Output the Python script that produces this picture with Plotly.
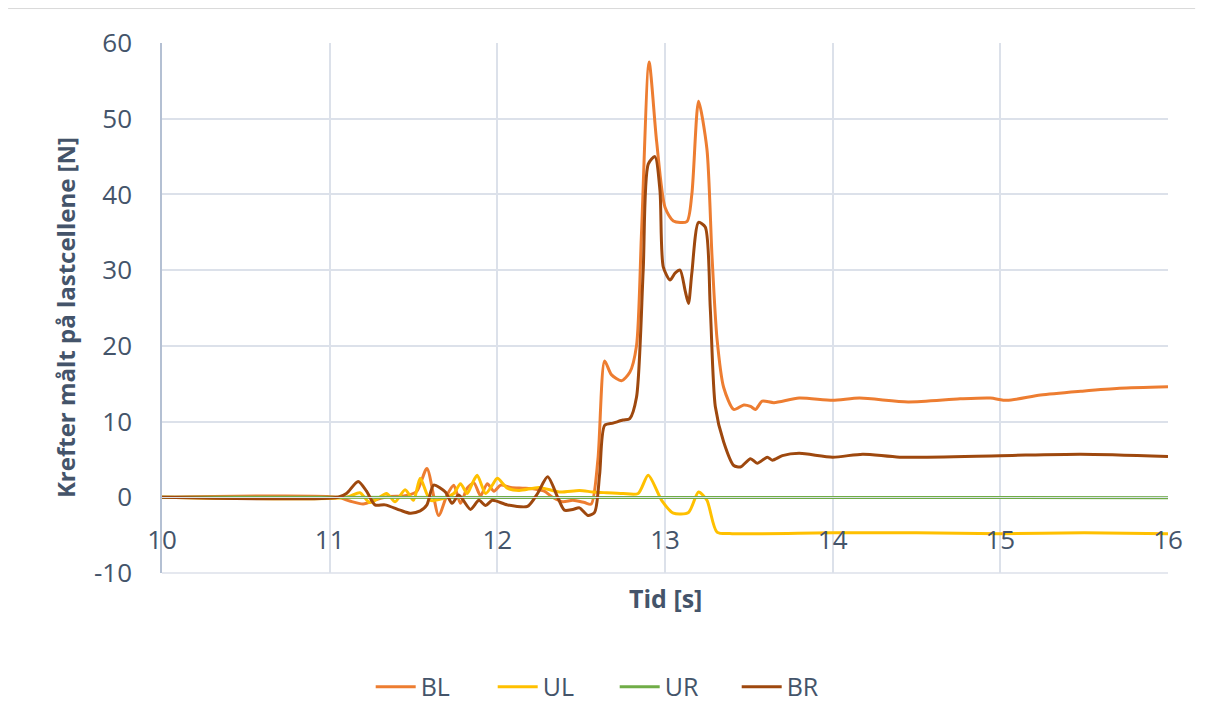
import plotly.graph_objects as go

# ---- data ----
bl_t = [10.0, 11.05, 11.12, 11.2, 11.28, 11.35, 11.45, 11.52, 11.58, 11.65, 11.7, 11.74, 11.78, 11.82,
        11.86, 11.9, 11.94, 11.98, 12.02, 12.08, 12.15, 12.22, 12.28, 12.33, 12.39, 12.45, 12.52, 12.56,
        12.6, 12.64, 12.68, 12.74, 12.79, 12.83, 12.86, 12.905, 12.95, 13.0, 13.05, 13.13, 13.16, 13.2,
        13.25, 13.28, 13.31, 13.35, 13.41, 13.47, 13.51, 13.54, 13.58, 13.65, 13.8, 14.0, 14.16, 14.45,
        14.76, 14.94, 15.04, 15.24, 15.48, 15.71, 16.0]
bl_v = [0, 0, -0.5, -0.9, -0.3, 0.1, 0.2, 0.8, 3.8, -2.4, 0.3, 1.6, -0.8, 1.2,
        1.9, 0.2, 1.8, 0.8, 1.6, 1.3, 1.2, 1.1, 0.8, 0.0, -0.6, -0.4, -0.7, -0.9,
        5, 18.0, 16.2, 15.4, 16.5, 20, 35, 57.5, 47, 38.3, 36.5, 36.4, 40, 52.3,
        46, 32, 21, 14.5, 11.6, 12.2, 12.0, 11.6, 12.7, 12.5, 13.1, 12.8, 13.1, 12.6,
        13.0, 13.1, 12.8, 13.5, 14.0, 14.4, 14.6]

ul_t = [10.0, 11.1, 11.18, 11.24, 11.34, 11.39, 11.45, 11.5, 11.54, 11.6, 11.67, 11.74, 11.78, 11.82,
        11.85, 11.88, 11.93, 11.97, 12.0, 12.06, 12.13, 12.25, 12.37, 12.49, 12.57, 12.65, 12.75, 12.84,
        12.9, 12.98, 13.05, 13.14, 13.2, 13.25, 13.31, 13.4, 14.0, 14.5, 15.0, 15.5, 16.0]
ul_v = [0, 0, 0.6, -0.7, 0.5, -0.6, 1.0, -0.4, 2.5, -0.4, -0.2, 0.5, 1.8, 0.5,
        1.8, 2.9, 0.5, 1.6, 2.5, 1.2, 0.9, 1.3, 0.7, 0.9, 0.7, 0.6, 0.5, 0.5,
        2.9, -0.4, -2.1, -2.0, 0.7, -0.4, -4.6, -4.8, -4.7, -4.7, -4.8, -4.7, -4.8]

ur_t = [10.0, 11.0, 12.0, 13.0, 14.0, 15.0, 16.0]
ur_v = [0, 0, 0, 0, -0.05, -0.05, -0.05]

br_t = [10.0, 11.05, 11.1, 11.17, 11.22, 11.27, 11.33, 11.42, 11.48, 11.54, 11.58, 11.62, 11.69, 11.73,
        11.77, 11.84, 11.89, 11.93, 11.97, 12.06, 12.18, 12.24, 12.3, 12.36, 12.4, 12.45, 12.49, 12.54,
        12.58, 12.61, 12.64, 12.69, 12.75, 12.79, 12.83, 12.87, 12.9, 12.94, 12.97, 12.99, 13.03, 13.06,
        13.09, 13.12, 13.14, 13.16, 13.2, 13.24, 13.27, 13.3, 13.35, 13.41, 13.45, 13.51, 13.55, 13.61,
        13.64, 13.7, 13.8, 14.0, 14.18, 14.4, 15.0, 15.48, 16.0]
br_v = [0, 0, 0.5, 2.1, 0.8, -1.0, -1.0, -1.7, -2.1, -1.8, -1.0, 1.6, 0.7, -0.8,
        0.3, -1.6, -0.4, -1.1, -0.4, -1.0, -1.2, 0.5, 2.7, 0.0, -1.7, -1.6, -1.4, -2.4,
        -2.0, 3, 9.5, 9.8, 10.2, 10.4, 13.2, 30, 44, 45, 40.5, 30.4, 28.7, 29.6,
        30, 27.3, 25.6, 29.6, 36.3, 35.7, 25, 12, 7.3, 4.2, 4.0, 5.1, 4.5, 5.3,
        4.9, 5.5, 5.8, 5.3, 5.7, 5.3, 5.5, 5.7, 5.4]

series = [
    ("BL", bl_t, bl_v, "#ED7D31", "spline"),
    ("UL", ul_t, ul_v, "#FFC000", "spline"),
    ("UR", ur_t, ur_v, "#70AD47", "linear"),
    ("BR", br_t, br_v, "#9E480E", "spline"),
]

x_ticks = [10, 11, 12, 13, 14, 15, 16]
y_ticks = [-10, 0, 10, 20, 30, 40, 50, 60]

TXT = "#44546A"
FONT = "Open Sans"
GRID = "#DCE1EA"

fig = go.Figure()
for name, t, v, col, shape in series:
    line = dict(color=col, width=3, shape=shape)
    if shape == "spline":
        line["smoothing"] = 0.7
    fig.add_trace(go.Scatter(x=t, y=v, mode="lines", name=name, line=line))

fig.update_layout(
    width=1207, height=714,
    paper_bgcolor="white", plot_bgcolor="white",
    margin=dict(l=154, r=47, t=35, b=149, autoexpand=False),
    font=dict(family=FONT, color=TXT, size=26),
    showlegend=True,
    legend=dict(orientation="h", x=0.45, xanchor="center", y=-0.215, yanchor="middle",
                font=dict(size=25, color=TXT), entrywidth=67, itemwidth=40),
    xaxis=dict(range=[10, 16], tickvals=x_ticks, ticktext=[str(v) for v in x_ticks],
               showgrid=True, gridcolor=GRID, gridwidth=1.5, zeroline=False,
               showline=True, linecolor=GRID, anchor="free", position=10 / 70,
               ticks="", ticklabelstandoff=20, tickfont=dict(size=26, color=TXT)),
    yaxis=dict(range=[-10, 60], tickvals=y_ticks, ticktext=[str(v) for v in y_ticks],
               showgrid=True, gridcolor=GRID, gridwidth=1.5,
               zeroline=False, showline=True, linecolor="#B4C0D3", linewidth=1.5,
               ticks="", ticklabelstandoff=23, tickfont=dict(size=26, color=TXT)),
    annotations=[
        dict(text="<b>Krefter målt på lastcellene [N]</b>", textangle=-90, xref="paper", yref="paper",
             x=-0.0964, y=0.481, xanchor="center", yanchor="middle", showarrow=False,
             font=dict(size=24, color=TXT, family=FONT)),
        dict(text="<b>Tid [s]</b>", xref="paper", yref="paper", x=0.5, y=-0.047,
             xanchor="center", yanchor="middle", showarrow=False,
             font=dict(size=25, color=TXT, family=FONT)),
    ],
    shapes=[
        dict(type="line", xref="paper", yref="paper", x0=0, x1=1, y0=0, y1=0,
             line=dict(color=GRID, width=1.5)),
        dict(type="line", xref="paper", yref="paper", x0=-0.153, x1=1.027, y0=1.065, y1=1.065,
             line=dict(color="#D9D9D9", width=1)),
    ],
)

fig.write_html("out.html")
